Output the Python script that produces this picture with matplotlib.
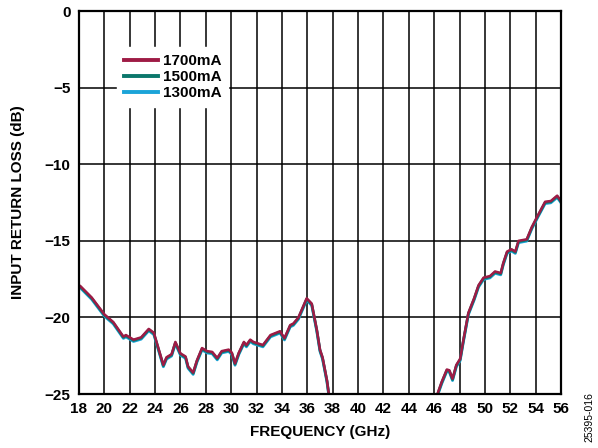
import matplotlib
matplotlib.use("Agg")
import matplotlib.pyplot as plt
import numpy as np

plt.rcParams['font.family'] = ['Liberation Sans', 'DejaVu Sans']

# frequency (GHz) and return loss (dB) for 1700mA
freq = [18.0, 18.1, 19.0, 20.0, 20.7, 21.5, 21.7, 22.3, 22.9, 23.5, 23.9, 24.65, 24.9,
        25.3, 25.6, 26.0, 26.4, 26.6, 27.0, 27.3, 27.7, 28.1, 28.5, 28.9, 29.25, 29.8,
        30.05, 30.3, 30.6, 31.0, 31.2, 31.5, 31.75, 32.5, 33.1, 33.85, 34.2, 34.65,
        34.9, 35.3, 35.95, 36.35, 36.75, 37.0, 37.2, 37.55, 37.7, 37.85,
        46.15, 46.3, 46.6, 47.0, 47.2, 47.45, 47.75, 48.05, 48.3, 48.7, 49.15, 49.5,
        49.9, 50.4, 50.8, 51.25, 51.45, 51.75, 52.1, 52.4, 52.65, 53.3, 53.7, 54.2,
        54.75, 55.2, 55.7, 56.0]
rl_1700 = [-17.9, -17.95, -18.7, -19.8, -20.3, -21.25, -21.15, -21.45, -21.3, -20.75,
           -21.0, -23.1, -22.6, -22.4, -21.6, -22.35, -22.55, -23.2, -23.6, -22.8,
           -22.0, -22.2, -22.25, -22.65, -22.2, -22.1, -22.3, -23.0, -22.3, -21.6,
           -21.8, -21.45, -21.6, -21.8, -21.15, -20.9, -21.35, -20.5, -20.4, -20.0,
           -18.75, -19.1, -20.8, -22.1, -22.6, -24.1, -25.0, -26.0,
           -26.0, -24.9, -24.2, -23.4, -23.45, -24.0, -23.1, -22.7, -21.5, -19.7,
           -18.75, -17.9, -17.4, -17.3, -17.0, -17.1, -16.45, -15.7, -15.55, -15.7,
           -15.0, -14.9, -14.1, -13.3, -12.45, -12.4, -12.05, -12.4]
# small offsets of the other bias currents
off_1500 = 0.05
off_1300 = 0.12

names = ['1700mA', '1500mA', '1300mA']
colors = ['#9E1B45', '#0B776B', '#1BA4D8']

fig = plt.figure(figsize=(5.98, 4.48), dpi=100)
ax = fig.add_axes([0.1321, 0.1205, 0.8060, 0.8549])

f = np.array(freq)
r = np.array(rl_1700)
ax.plot(f, r - off_1300, color=colors[2], lw=2.0, label=names[2], zorder=3)
ax.plot(f, r - off_1500, color=colors[1], lw=2.0, label=names[1], zorder=4)
ax.plot(f, r, color=colors[0], lw=1.8, label=names[0], zorder=5)

ax.set_xlim(18, 56)
ax.set_ylim(-25, 0)
ax.set_xticks(np.arange(18, 57, 2))
ax.set_yticks([0, -5, -10, -15, -20, -25])
ax.set_yticklabels(['0', '\u22125', '\u221210', '\u221215', '\u221220', '\u221225'])
ax.grid(True, color='black', lw=1.1)
ax.set_axisbelow(True)
ax.tick_params(length=0, labelsize=11, pad=6)
for lab in ax.get_xticklabels() + ax.get_yticklabels():
    lab.set_fontweight('bold')
for sp in ax.spines.values():
    sp.set_linewidth(1.6)
    sp.set_zorder(6)

ax.set_xlabel('FREQUENCY (GHz)', fontsize=11, fontweight='bold', labelpad=6)
ax.set_ylabel('INPUT RETURN LOSS (dB)', fontsize=11, fontweight='bold', labelpad=14)

h, l = ax.get_legend_handles_labels()
leg = ax.legend(h[::-1], l[::-1], loc='upper left', bbox_to_anchor=(0.064, 0.925),
                frameon=True, fancybox=False, edgecolor='white', framealpha=1,
                handlelength=2.2, handletextpad=0.3, labelspacing=0.12,
                borderpad=0.45, prop={'weight': 'bold', 'size': 11})
for line in leg.get_lines():
    line.set_linewidth(2.8)
leg.set_zorder(7)

fig.text(0.986, 0.07, '25395-016', rotation=90, fontsize=7.5, ha='center', va='center')

fig.savefig('out.png', dpi=100)
